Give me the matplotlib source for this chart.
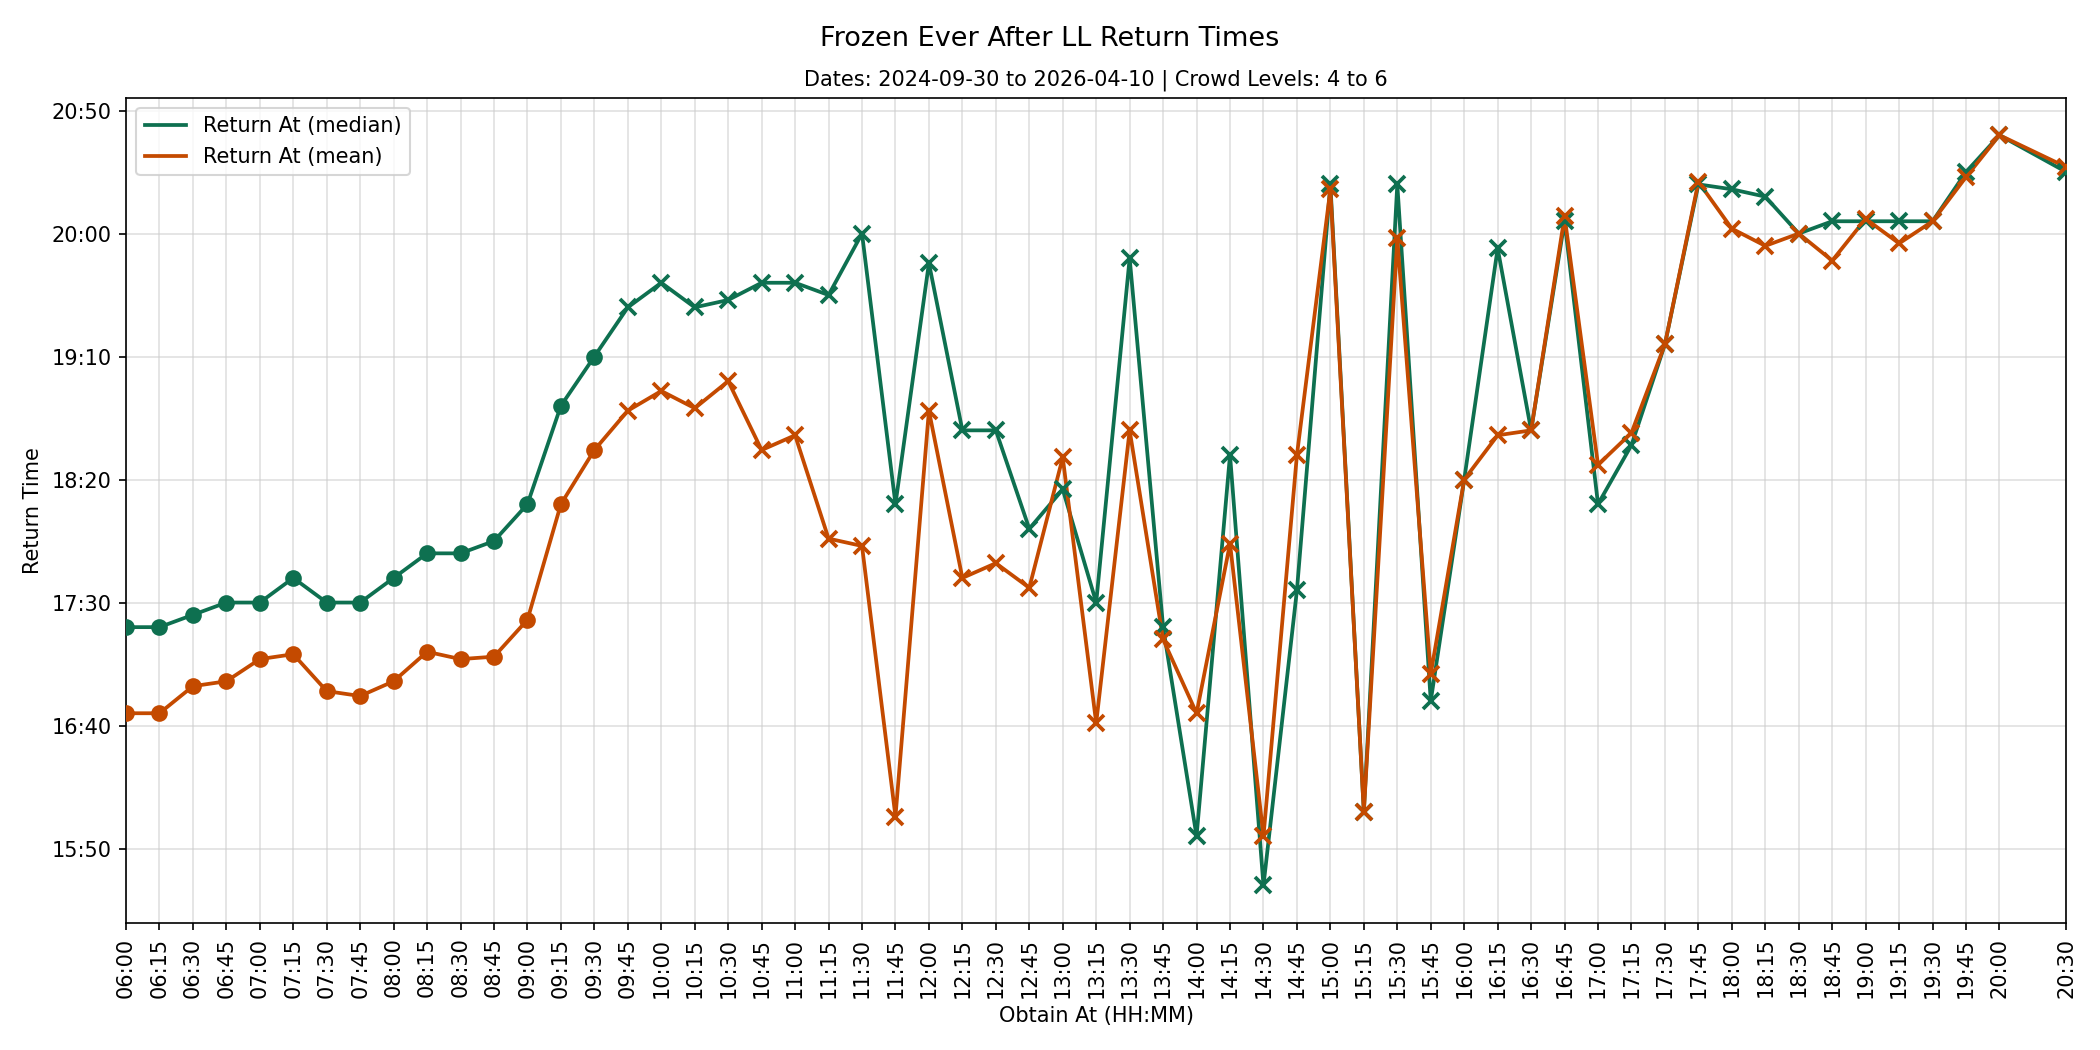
import numpy as np
import matplotlib
matplotlib.use("Agg")
import matplotlib.pyplot as plt
from matplotlib.ticker import MultipleLocator, FuncFormatter


TITLE = "Frozen Ever After LL Return Times"
SUBTITLE = "Dates: 2024-09-30 to 2026-04-10 | Crowd Levels: 4 to 6"

OBTAIN_AT = [
    "06:00", "06:15", "06:30", "06:45", "07:00", "07:15", "07:30", "07:45",
    "08:00", "08:15", "08:30", "08:45", "09:00", "09:15", "09:30", "09:45",
    "10:00", "10:15", "10:30", "10:45", "11:00", "11:15", "11:30", "11:45",
    "12:00", "12:15", "12:30", "12:45", "13:00", "13:15", "13:30", "13:45",
    "14:00", "14:15", "14:30", "14:45", "15:00", "15:15", "15:30", "15:45",
    "16:00", "16:15", "16:30", "16:45", "17:00", "17:15", "17:30", "17:45",
    "18:00", "18:15", "18:30", "18:45", "19:00", "19:15", "19:30", "19:45",
    "20:00", "20:30",
]

RETURN_MEDIAN = [
    "17:20", "17:20", "17:25", "17:30", "17:30", "17:40", "17:30", "17:30",
    "17:40", "17:50", "17:50", "17:55", "18:10", "18:50", "19:10", "19:30",
    "19:40", "19:30", "19:33", "19:40", "19:40", "19:35", "20:00", "18:10",
    "19:48", "18:40", "18:40", "18:00", "18:16", "17:30", "19:50", "17:20",
    "15:55", "18:30", "15:35", "17:35", "20:20", "16:05", "20:20", "16:50",
    "18:20", "19:54", "18:40", "20:05", "18:10", "18:34", "19:15", "20:20",
    "20:18", "20:15", "20:00", "20:05", "20:05", "20:05", "20:05", "20:25",
    "20:40", "20:25",
]

RETURN_MEAN = [
    "16:45", "16:45", "16:56", "16:58", "17:07", "17:09", "16:54", "16:52",
    "16:58", "17:10", "17:07", "17:08", "17:23", "18:10", "18:32", "18:48",
    "18:56", "18:49", "19:00", "18:32", "18:38", "17:56", "17:53", "16:03",
    "18:48", "17:40", "17:46", "17:36", "18:29", "16:41", "18:40", "17:15",
    "16:45", "17:54", "15:55", "18:30", "20:18", "16:05", "19:58", "17:01",
    "18:20", "18:38", "18:40", "20:07", "18:26", "18:39", "19:15", "20:21",
    "20:02", "19:55", "20:00", "19:49", "20:06", "19:56", "20:05", "20:23",
    "20:40", "20:27",
]

# points up to this obtain time are drawn with round markers, later ones with crosses
ROUND_UNTIL = "09:30"

MEDIAN_COLOR = "#0e7050"
MEAN_COLOR = "#c44a00"


def to_minutes(hhmm):
    h, m = hhmm.split(":")
    return int(h) * 60 + int(m)


def fmt_hhmm(value, _pos=None):
    value = int(round(value))
    return f"{value // 60:02d}:{value % 60:02d}"


def main():
    x = np.array([to_minutes(t) for t in OBTAIN_AT], dtype=float)
    median = np.array([to_minutes(t) for t in RETURN_MEDIAN], dtype=float)
    mean = np.array([to_minutes(t) for t in RETURN_MEAN], dtype=float)
    round_mask = x <= to_minutes(ROUND_UNTIL)

    fig, ax = plt.subplots(figsize=(14, 7), dpi=150)

    for values, color, label in [
        (median, MEDIAN_COLOR, "Return At (median)"),
        (mean, MEAN_COLOR, "Return At (mean)"),
    ]:
        ax.plot(x, values, color=color, linewidth=1.8, label=label, zorder=3)
        ax.plot(x[round_mask], values[round_mask], linestyle="none", marker="o",
                markersize=7, color=color, zorder=4)
        ax.plot(x[~round_mask], values[~round_mask], linestyle="none", marker="x",
                markersize=8, markeredgewidth=1.8, color=color, zorder=4)

    ax.set_xlim(x.min(), x.max())
    ax.set_xticks(x)
    ax.set_xticklabels(OBTAIN_AT, rotation=90)
    ax.yaxis.set_major_locator(MultipleLocator(50))
    ax.yaxis.set_major_formatter(FuncFormatter(fmt_hhmm))

    ax.grid(True, color="#cccccc", alpha=0.6, linewidth=0.8)
    ax.set_axisbelow(True)

    ax.set_xlabel("Obtain At (HH:MM)")
    ax.set_ylabel("Return Time")
    ax.set_title(SUBTITLE, fontsize=10)
    fig.suptitle(TITLE, fontsize=13, y=0.975)
    ax.legend(loc="upper left")

    fig.subplots_adjust(left=0.06, right=0.984, top=0.907, bottom=0.121)
    fig.savefig("out.png", dpi=150)
    plt.close(fig)


if __name__ == "__main__":
    main()
